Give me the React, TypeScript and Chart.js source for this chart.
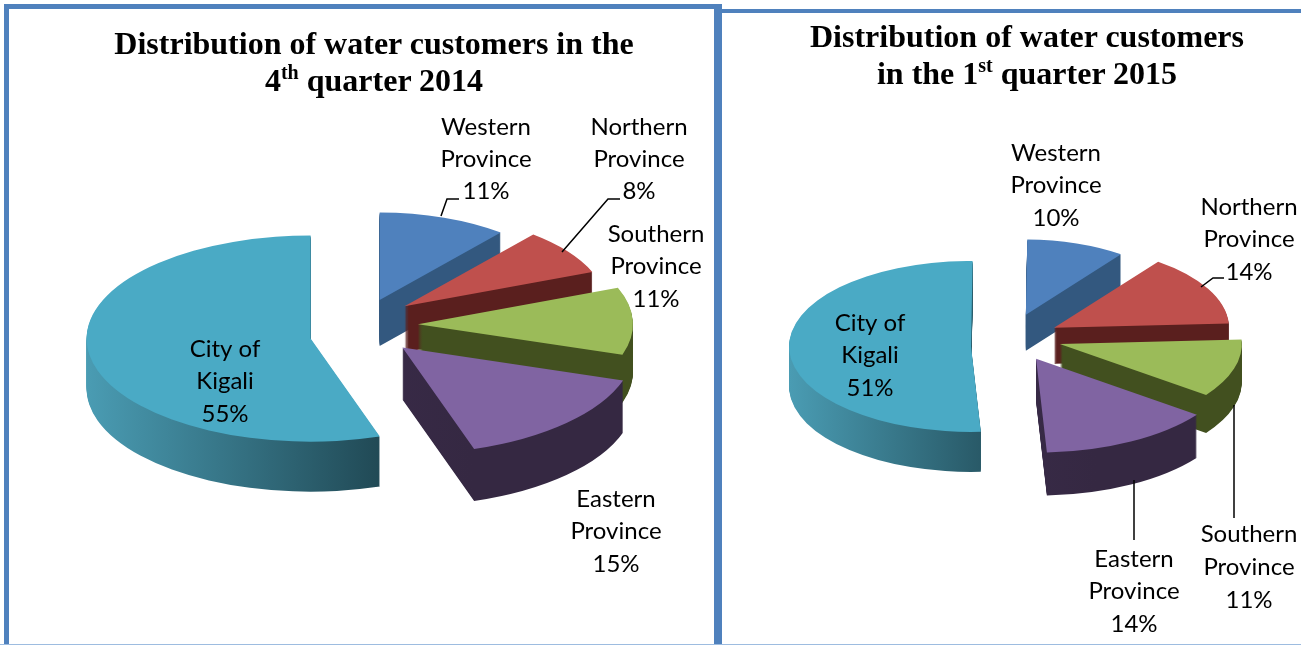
import React, { useEffect, useRef } from "react";
import { Chart, registerables, ArcElement } from "chart.js";

Chart.register(...registerables);

// ---- data ----
const categories = ["Western Province", "Northern Province", "Southern Province", "Eastern Province", "City of Kigali"];
const labelLines = [["Western", "Province"], ["Northern", "Province"], ["Southern", "Province"], ["Eastern", "Province"], ["City of", "Kigali"]];
const values2014 = [11, 8, 11, 15, 55];
const values2015 = [10, 14, 11, 14, 51];

// ---- styles ----
const topColors = ["#4F81BD", "#BF504D", "#9BBB59", "#8064A2", "#4AAAC5"];
const wallStops = [
  ["#33587F", "#33587F"],
  ["#5A1F1E", "#5A1F1E"],
  ["#42501F", "#42501F"],
  ["#3E2F52", "#352842"],
  ["#4A9CB3", "#214A56"],
];
const BLUE = "#4F81BD";
const LABEL_FONT = "24px Lato";

// ---- layout of each pie ----
const left2014 = {
  canvasLeft: 0, width: 717, padding: { left: 3, top: 5 },
  squash: 0.46, explode: [58, 55, 58, 60, 50], drop: [0, -4, 0, 3, 10],
  radii: [190, 202, 215, 232, 224], depth: [46, 46, 48, 52, 50],
  rotation: 0,
  labelAt: [[486, [127, 159, 191]], [639, [127, 159, 191]], [656, [234, 266, 299]], [616, [499, 531, 564]], [225, [349, 381, 414]]],
  leaders: [[[441, 216], [447, 199], [459, 199]], [[562, 252], [608, 199], [620, 199]]],
};
const right2015 = {
  canvasLeft: 720, width: 581, padding: { right: 1, top: 29 },
  squash: 0.47, explode: [50, 50, 52, 55, 39], drop: [0, 2, 0, -1, 9],
  radii: [160, 175, 182, 200, 182], depth: [36, 36, 38, 43, 40],
  rotation: 0.5,
  labelAt: [[1056, [153, 185, 218]], [1249, [207, 239, 272]], [1249, [534, 567, 600]], [1134, [559, 591, 624]], [870, [323, 355, 388]]],
  leaders: [[[1201, 287], [1213, 278], [1224, 278]], [[1234, 405], [1234, 518]], [[1134, 480], [1134, 540]]],
};

const piePlugin = {
  id: "pie3d",
  afterDatasetsUpdate(chart: any, _a: any, o: any) {
    const cy = (chart.chartArea.top + chart.chartArea.bottom) / 2;
    const cx = (chart.chartArea.left + chart.chartArea.right) / 2;
    chart.getDatasetMeta(0).data.forEach((arc: any, i: number) => {
      const mid = (arc.startAngle + arc.endAngle) / 2;
      arc.x = cx + Math.cos(mid) * o.explode[i];
      arc.y = cy + Math.sin(mid) * o.explode[i] + o.drop[i] / o.squash;
      arc.outerRadius = o.radii[i];
    });
  },
  beforeDatasetsDraw(chart: any, _a: any, o: any) {
    const ctx = chart.ctx;
    const cy = (chart.chartArea.top + chart.chartArea.bottom) / 2;
    ctx.save();
    ctx.translate(0, cy);
    ctx.scale(1, o.squash);
    ctx.translate(0, -cy);
    chart.getDatasetMeta(0).data.forEach((arc: any, i: number) => {
      const g = ctx.createLinearGradient(arc.x - o.radii[i], 0, arc.x + o.radii[i] * 0.3, 0);
      g.addColorStop(0, wallStops[i][0]);
      g.addColorStop(1, wallStops[i][1]);
      const wall = new (ArcElement as any)({
        x: arc.x, y: arc.y, startAngle: arc.startAngle, endAngle: arc.endAngle,
        innerRadius: arc.innerRadius, outerRadius: arc.outerRadius, circumference: arc.circumference,
        options: { ...arc.options, backgroundColor: g, borderWidth: 0 },
      });
      for (let d = o.depth[i]; d >= 1; d--) {
        ctx.save();
        ctx.translate(0, d / o.squash);
        wall.draw(ctx);
        ctx.restore();
      }
    });
  },
  afterDatasetsDraw(chart: any) {
    chart.ctx.restore();
  },
  afterDraw(chart: any, _a: any, o: any) {
    const ctx = chart.ctx;
    const values = chart.data.datasets[0].data;
    ctx.save();
    ctx.translate(-o.canvasLeft, 0);
    ctx.strokeStyle = "#000";
    ctx.lineWidth = 1.5;
    o.leaders.forEach((pts: number[][]) => {
      ctx.beginPath();
      pts.forEach((p, j) => (j ? ctx.lineTo(p[0], p[1]) : ctx.moveTo(p[0], p[1])));
      ctx.stroke();
    });
    ctx.fillStyle = "#000";
    ctx.font = LABEL_FONT;
    ctx.textAlign = "center";
    ctx.textBaseline = "middle";
    o.labelAt.forEach((at: any, i: number) => {
      const rows = [...labelLines[i], values[i] + "%"];
      rows.forEach((t, j) => ctx.fillText(t, at[0], at[1][j]));
    });
    ctx.restore();
  },
};

function Pie({ values, layout }: { values: number[]; layout: any }) {
  const ref = useRef<HTMLCanvasElement>(null);
  useEffect(() => {
    const chart = new Chart(ref.current!, {
      type: "pie",
      data: {
        labels: categories,
        datasets: [{ data: values, backgroundColor: topColors, borderWidth: 0, clip: false } as any],
      },
      options: {
        animation: false,
        responsive: false,
        rotation: layout.rotation,
        layout: { padding: layout.padding },
        plugins: { legend: { display: false }, tooltip: { enabled: false }, pie3d: layout } as any,
      },
      plugins: [piePlugin as any],
    });
    return () => chart.destroy();
  }, []);
  return (
    <canvas
      ref={ref}
      width={layout.width}
      height={645}
      style={{ position: "absolute", left: layout.canvasLeft, top: 0, width: layout.width, height: 645 }}
    />
  );
}

const titleStyle: React.CSSProperties = {
  position: "absolute",
  textAlign: "center",
  fontFamily: "'Liberation Serif', serif",
  fontWeight: 700,
  fontSize: 32,
  color: "#000",
  whiteSpace: "nowrap",
};
const lineStyle = (x: number, y: number, w: number, h: number, c = BLUE): React.CSSProperties => ({
  position: "absolute", left: x, top: y, width: w, height: h, background: c,
});
const supStyle: React.CSSProperties = { fontSize: 20, verticalAlign: "baseline", position: "relative", top: -12 };

export default function App() {
  return (
    <div style={{ position: "absolute", left: 0, top: 0, width: 1301, height: 645, overflow: "hidden", background: "#fff" }}>
      <Pie values={values2014} layout={left2014} />
      <Pie values={values2015} layout={right2015} />
      <div style={lineStyle(4, 4, 718, 5)} />
      <div style={lineStyle(4, 4, 5, 641)} />
      <div style={lineStyle(714, 4, 8, 641)} />
      <div style={lineStyle(722, 9, 579, 4)} />
      <div style={lineStyle(0, 644, 1301, 1, "#9DBCE0")} />
      <div style={{ ...titleStyle, left: 14, width: 720, top: 25, lineHeight: "37px" }}>
        Distribution of water customers in the
        <br />
        4<span style={supStyle}>th</span> quarter 2014
      </div>
      <div style={{ ...titleStyle, left: 727, width: 600, top: 18, lineHeight: "37px" }}>
        Distribution of water customers
        <br />
        in the 1<span style={supStyle}>st</span> quarter 2015
      </div>
    </div>
  );
}
